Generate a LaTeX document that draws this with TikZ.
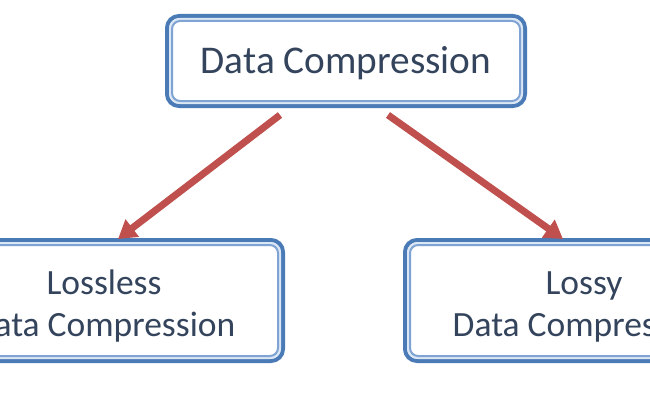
\documentclass[tikz,border=0pt]{standalone}
\usepackage{fontspec}
\setmainfont{Carlito}
\usetikzlibrary{arrows.meta}
\definecolor{outerblue}{HTML}{4A7BB7}
\definecolor{innerblue}{HTML}{7FA3D3}
\definecolor{gapblue}{HTML}{DCE7F5}
\definecolor{txtcol}{HTML}{34445C}
\definecolor{arrred}{HTML}{C0504D}
\tikzset{
  boxnode/.style={draw=outerblue, line width=4pt, rounded corners=12pt, fill=white,
    outer sep=0pt, inner sep=0pt, text=txtcol, align=center},
  innerline/.style={draw=innerblue, line width=2pt, rounded corners=8pt},
  gapline/.style={draw=gapblue, line width=2pt, rounded corners=10pt},
  arr/.style={draw=arrred, line width=7pt, -{Triangle[width=21pt,length=18pt]}}
}
\begin{document}
\begin{tikzpicture}[x=1pt,y=1pt]
\useasboundingbox[fill=white] (0,0) rectangle (650,400);
\node[boxnode, minimum width=358pt, minimum height=90pt,
  font=\fontsize{39.3}{47}\selectfont] (top) at (346,339) {\rule{0pt}{31pt}Data Compression};
\node[boxnode, minimum width=358pt, minimum height=121pt,
  font=\fontsize{35.5}{42}\selectfont] (left) at (104,99.5) {\rule{0pt}{35pt}Lossless\\Data Compression};
\node[boxnode, minimum width=358pt, minimum height=121pt,
  font=\fontsize{35.5}{42}\selectfont] (right) at (584,99.5) {\rule{0pt}{35pt}Lossy\\Data Compression};
\foreach \n in {top,left,right}{
  \draw[gapline] ([shift={(3,-3)}]\n.north west) rectangle ([shift={(-3,3)}]\n.south east);
  \draw[innerline] ([shift={(5,-5)}]\n.north west) rectangle ([shift={(-5,5)}]\n.south east);
}
\draw[arr] ([xshift=-66pt,yshift=-9pt]top.south) -- ([xshift=14pt,yshift=1pt]left.north);
\draw[arr] ([xshift=42pt,yshift=-9pt]top.south) -- ([xshift=-21pt,yshift=1pt]right.north);
\end{tikzpicture}
\end{document}
